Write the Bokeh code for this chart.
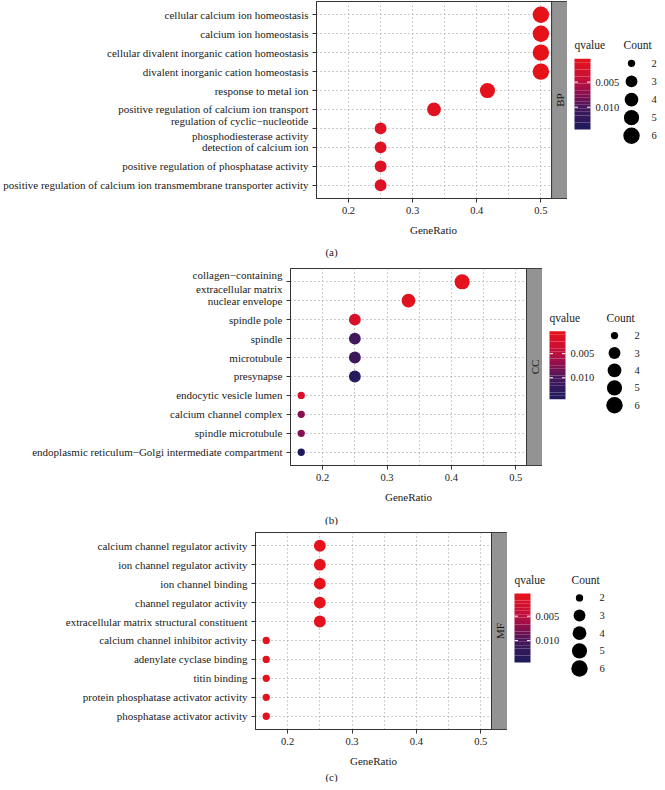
import math
from bokeh.plotting import figure
from bokeh.layouts import column, row
from bokeh.models import (Range1d, FactorRange, FixedTicker, BoxAnnotation, Label,
                          ColumnDataSource)
from bokeh.transform import linear_cmap
from bokeh.core.properties import value
from bokeh.embed import file_html
from bokeh.resources import INLINE

# ---------------- data ----------------
bp_terms = [
    "cellular calcium ion homeostasis",
    "calcium ion homeostasis",
    "cellular divalent inorganic cation homeostasis",
    "divalent inorganic cation homeostasis",
    "response to metal ion",
    "positive regulation of calcium ion transport",
    "regulation of cyclic\u2212nucleotide\nphosphodiesterase activity",
    "detection of calcium ion",
    "positive regulation of phosphatase activity",
    "positive regulation of calcium ion transmembrane transporter activity",
]
bp_ratio = [0.5, 0.5, 0.5, 0.5, 0.4167, 0.3333, 0.25, 0.25, 0.25, 0.25]
bp_count = [6, 6, 6, 6, 5, 4, 3, 3, 3, 3]
bp_q = [0.00036, 0.00036, 0.00036, 0.00036, 0.0006, 0.0011, 0.0013, 0.0013, 0.0016, 0.0016]

cc_terms = [
    "collagen\u2212containing\nextracellular matrix",
    "nuclear envelope",
    "spindle pole",
    "spindle",
    "microtubule",
    "presynapse",
    "endocytic vesicle lumen",
    "calcium channel complex",
    "spindle microtubule",
    "endoplasmic reticulum\u2212Golgi intermediate compartment",
]
cc_ratio = [0.4167, 0.3333, 0.25, 0.25, 0.25, 0.25, 0.1667, 0.1667, 0.1667, 0.1667]
cc_count = [5, 4, 3, 3, 3, 3, 2, 2, 2, 2]
cc_q = [0.0008, 0.0012, 0.0021, 0.0106, 0.0110, 0.0133, 0.0018, 0.0074, 0.0076, 0.01446]

mf_terms = [
    "calcium channel regulator activity",
    "ion channel regulator activity",
    "ion channel binding",
    "channel regulator activity",
    "extracellular matrix structural constituent",
    "calcium channel inhibitor activity",
    "adenylate cyclase binding",
    "titin binding",
    "protein phosphatase activator activity",
    "phosphatase activator activity",
]
mf_ratio = [0.25, 0.25, 0.25, 0.25, 0.25, 0.1667, 0.1667, 0.1667, 0.1667, 0.1667]
mf_count = [3, 3, 3, 3, 3, 2, 2, 2, 2, 2]
mf_q = [0.0005, 0.0005, 0.0005, 0.0005, 0.0006, 0.0008, 0.0008, 0.0008, 0.0009, 0.0009]

x_ticks = [0.2, 0.3, 0.4, 0.5]
x_grid = [0.2, 0.25, 0.3, 0.35, 0.4, 0.45, 0.5]
q_ticks = [0.005, 0.010]
count_levels = [2, 3, 4, 5, 6]
panel_tags = ["BP", "CC", "MF"]
captions = ["(a)", "(b)", "(c)"]

# ---------------- style ----------------
FONT = "Liberation Serif"
TXT = "#1a1a1a"
PLOT_W = 236
STRIP_W = 16
FRAME_H = 197
BOTTOM = 22
GRID_C = "#9a9a9a"
TOTAL_W = 657

all_ratio = bp_ratio + cc_ratio + mf_ratio
all_q = bp_q + cc_q + mf_q
rmin, rmax = min(all_ratio), max(all_ratio)
X0 = rmin - 0.05 * (rmax - rmin)
X1 = rmax + 0.05 * (rmax - rmin)
STRIP_D = STRIP_W * (X1 - X0) / PLOT_W
QLO, QHI = min(all_q), max(all_q)


def hex2rgb(h):
    h = h.lstrip("#")
    return tuple(int(h[i:i + 2], 16) for i in (0, 2, 4))


anchors = [(0.0, "#E6121A"), (0.3, "#C4103C"), (0.5, "#8A0F50"),
           (0.7, "#43185B"), (1.0, "#1D1B5C")]
palette = []
for i in range(256):
    t = i / 255
    for (t0, c0), (t1, c1) in zip(anchors[:-1], anchors[1:]):
        if t0 <= t <= t1:
            f = (t - t0) / (t1 - t0)
            a, b = hex2rgb(c0), hex2rgb(c1)
            palette.append("#%02x%02x%02x" % tuple(round(a[k] + (b[k] - a[k]) * f) for k in range(3)))
            break


def dot_size(c):
    cmin, cmax = min(count_levels), max(count_levels)
    s = 3 + 5 * math.sqrt((c - cmin) / (cmax - cmin))
    return 1.84 + 1.82 * s


def main_fig(terms, ratio, count, q, tag, left, top):
    factors = list(reversed(terms))
    p = figure(width=left + PLOT_W + STRIP_W, height=top + FRAME_H + BOTTOM,
               x_range=Range1d(X0, X1 + STRIP_D),
               y_range=FactorRange(factors=factors, range_padding=0.2,
                                   range_padding_units="absolute"),
               output_backend="svg", toolbar_location=None,
               min_border_left=left, min_border_right=0, min_border_top=top,
               min_border_bottom=BOTTOM)
    p.outline_line_color = "#333333"
    p.outline_line_width = 1
    p.background_fill_color = "white"
    p.border_fill_color = "white"
    p.xgrid.ticker = FixedTicker(ticks=x_grid)
    for g in (p.xgrid, p.ygrid):
        g.grid_line_color = GRID_C
        g.grid_line_dash = "1 3"
        g.grid_line_width = 1
    p.xaxis.ticker = FixedTicker(ticks=x_ticks)
    for ax in (p.xaxis, p.yaxis):
        ax.axis_line_color = "#333333"
        ax.major_tick_line_color = "#333333"
        ax.major_tick_out = 4
        ax.major_tick_in = 0
        ax.minor_tick_line_color = None
        ax.major_label_text_font = FONT
        ax.major_label_text_color = TXT
        ax.major_label_standoff = 4
    p.xaxis.major_label_text_font_size = "10.5px"
    p.yaxis.major_label_text_font_size = "11px"
    src = ColumnDataSource(dict(x=ratio, y=terms, q=q, size=[dot_size(c) for c in count]))
    p.scatter("x", "y", size="size", source=src, line_color=None,
              fill_color=linear_cmap("q", palette, QLO, QHI))
    p.add_layout(BoxAnnotation(left=X1, right=X1 + STRIP_D, fill_color="#939393",
                               fill_alpha=1, line_color="#333333", line_width=1,
                               line_alpha=1))
    p.add_layout(Label(x=X1 + STRIP_D / 2, y=len(terms) / 2, text=tag,
                       angle=math.pi / 2, text_align="center", text_baseline="middle",
                       text_font=FONT, text_font_size="11px", text_color="#111111"))
    return p


def legend_fig(width, height, top, cdx):
    lg = figure(width=width, height=height, x_range=Range1d(0, width),
                y_range=Range1d(height, 0), output_backend="svg",
                toolbar_location=None, min_border=0)
    lg.axis.visible = False
    lg.grid.visible = False
    lg.outline_line_color = None
    bar_top, bar_h = top + 63, 79

    def qy(v):
        return bar_top + (v - QLO) / (QHI - QLO) * bar_h

    nb = 20
    edges = [QLO + (QHI - QLO) * i / nb for i in range(nb + 1)]
    bsrc = ColumnDataSource(dict(top=[qy(e) for e in edges[:-1]],
                                 bottom=[qy(e) for e in edges[1:]],
                                 q=[(a + b) / 2 for a, b in zip(edges[:-1], edges[1:])]))
    lg.quad(left=7, right=23, top="top", bottom="bottom", source=bsrc, line_color=None,
            fill_color=linear_cmap("q", palette, QLO, QHI))
    ty = [qy(t) for t in q_ticks]
    lg.segment(x0=[7] * len(ty), x1=[10.5] * len(ty), y0=ty, y1=ty, line_color="white", line_width=1)
    lg.segment(x0=[19.5] * len(ty), x1=[23] * len(ty), y0=ty, y1=ty, line_color="white", line_width=1)
    lg.text(x=[28] * len(ty), y=ty, text=["%.3f" % t for t in q_ticks],
            text_font=value(FONT), text_font_size="10.5px", text_color=TXT,
            text_align="left", text_baseline="middle")
    lg.text(x=[7, 64 + cdx], y=[top + 48, top + 48], text=["qvalue", "Count"],
            text_font=value(FONT), text_font_size="11.5px", text_color=TXT,
            text_align="left", text_baseline="middle")
    cy = [top + 68 + 20.25 * i for i in range(len(count_levels))]
    lg.scatter(x=[72 + cdx] * len(cy), y=cy, size=[dot_size(c) for c in count_levels],
               fill_color="black", line_color=None)
    lg.text(x=[92 + cdx] * len(cy), y=cy, text=[str(c) for c in count_levels],
            text_font=value(FONT), text_font_size="10.5px", text_color=TXT,
            text_align="left", text_baseline="middle")
    return lg


def text_fig(height, gx, cap, gy, cy):
    tf = figure(width=TOTAL_W, height=height, x_range=Range1d(0, TOTAL_W),
                y_range=Range1d(height, 0), output_backend="svg",
                toolbar_location=None, min_border=0)
    tf.axis.visible = False
    tf.grid.visible = False
    tf.outline_line_color = None
    tf.text(x=[gx], y=[gy], text=["GeneRatio"], text_font=value(FONT),
            text_font_size="11px", text_color=TXT, text_align="center",
            text_baseline="middle")
    tf.text(x=[331], y=[cy], text=[cap], text_font=value(FONT),
            text_font_size="11px", text_color=TXT, text_align="center",
            text_baseline="middle")
    return tf


datasets = [(bp_terms, bp_ratio, bp_count, bp_q),
            (cc_terms, cc_ratio, cc_count, cc_q),
            (mf_terms, mf_ratio, mf_count, mf_q)]
lefts = [315, 290, 255]
tops = [1, 10, 7]
text_h = [38, 38, 31]
text_gy = [9, 9, 9]
text_cy = [31, 32, 25]
count_dx = [-8, 0, 0]

items = []
for (terms, ratio, count, q), tag, cap, left, top, th, gy, cy, cdx in zip(
        datasets, panel_tags, captions, lefts, tops, text_h, text_gy, text_cy, count_dx):
    m = main_fig(terms, ratio, count, q, tag, left, top)
    lw = TOTAL_W - m.width
    lg = legend_fig(lw, m.height, top, cdx)
    items.append(row(m, lg))
    items.append(text_fig(th, left + PLOT_W / 2, cap, gy, cy))

layout = column(*items)
open("out.html", "w").write(file_html(layout, INLINE))
